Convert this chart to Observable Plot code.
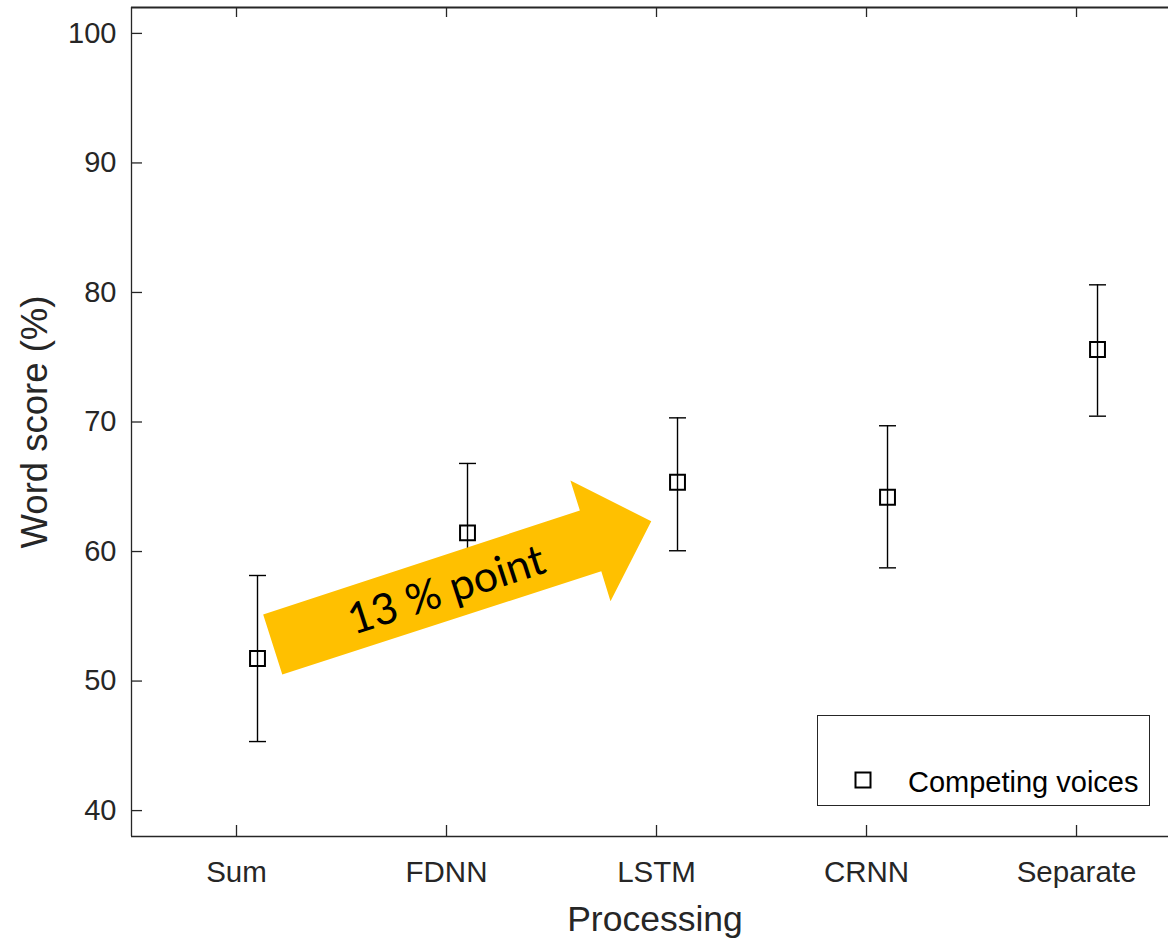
<!DOCTYPE html>
<html>
<head>
<meta charset="utf-8">
<script src="https://cdn.jsdelivr.net/npm/d3@7"></script>
<script src="https://cdn.jsdelivr.net/npm/@observablehq/plot@0.6"></script>
<style>
  html, body { margin: 0; padding: 0; background: #fff; overflow: hidden; }
  #wrap { position: relative; width: 1168px; height: 940px; }
  #legend {
    position: absolute; left: 817px; top: 715px; width: 333px; height: 91px;
    box-sizing: border-box; border: 1.3px solid #262626; background: #fff;
    font-family: "Liberation Sans", Arial, sans-serif; font-size: 29px; color: #000;
  }
  #legend svg { position: absolute; left: 36px; top: 55px; }
  #legend span { position: absolute; left: 90px; top: 50px; line-height: 32px; white-space: nowrap; }
</style>
</head>
<body>
<div id="wrap"></div>
<script>
// ---- data ----
const categories = ["Sum", "FDNN", "LSTM", "CRNN", "Separate"];
const means = [51.74, 61.44, 65.35, 64.19, 75.60];
const upper = [58.15, 66.80, 70.32, 69.71, 80.59];
const lower = [45.33, 56.08, 60.06, 58.74, 70.45];
const yTicks = [40, 50, 60, 70, 80, 90, 100];
const seriesName = "Competing voices";
// annotation arrow (in data units: category index, word score %)
const arrowX = [1.218, 1.127, 2.635, 2.590, 2.975, 2.781, 2.737];
const arrowY = [50.51, 55.14, 63.17, 65.48, 62.34, 56.17, 58.48];
const arrowLabel = "13 % point";
const arrowLabelPos = {x: 2.0, y: 57.0};

const rows = categories.map((c, i) => ({i: i + 1, cat: c, mean: means[i], hi: upper[i], lo: lower[i]}));
const arrow = arrowX.map((x, k) => ({x, y: arrowY[k]}));
const xIdx = categories.map((c, i) => i + 1);

const W = 1168, H = 940, mL = 131, mR = 0, mT = 7, mB = 104;
const fw = W - mL - mR, fh = H - mT - mB;
const ink = "#262626";
const cap = {draw(ctx, size) { const w = Math.sqrt(size) / 2; ctx.moveTo(-w, 0); ctx.lineTo(w, 0); }};

const chart = Plot.plot({
  width: W, height: H,
  marginLeft: mL, marginRight: mR, marginTop: mT, marginBottom: mB,
  style: {fontFamily: "'Liberation Sans', Arial, sans-serif", color: ink, background: "#fff"},
  x: {type: "linear", domain: [0.5, 5.438]},
  y: {domain: [38, 102]},
  marks: [
    // axis tick labels
    Plot.axisY({ticks: yTicks, tickSize: 0, tickPadding: 15, fontSize: 29, label: null, tickFormat: d => d}),
    Plot.axisX({ticks: xIdx, tickSize: 0, tickPadding: 25, fontSize: 29.5, label: null, tickFormat: d => categories[d - 1]}),
    // inward ticks
    Plot.tickY(yTicks, {y: d => d, insetRight: fw - 11, stroke: ink, strokeWidth: 1.3}),
    Plot.tickX(xIdx, {x: d => d, insetTop: fh - 11, stroke: ink, strokeWidth: 1.3}),
    Plot.tickX(xIdx, {x: d => d, insetBottom: fh - 10, stroke: ink, strokeWidth: 1.3}),
    // box lines (top, bottom, left)
    Plot.ruleY([102], {stroke: ink, strokeWidth: 1.8}),
    Plot.ruleY([38], {stroke: ink, strokeWidth: 1.5}),
    Plot.ruleX([0.5], {stroke: ink, strokeWidth: 1.3}),
    // axis titles
    Plot.text(["Processing"], {frameAnchor: "bottom", dx: 5, dy: 83, fontSize: 35.5, fill: ink, lineAnchor: "middle", textAnchor: "middle"}),
    Plot.text(["Word score (%)"], {frameAnchor: "left", dx: -96, rotate: -90, fontSize: 36.5, fill: ink, lineAnchor: "middle", textAnchor: "middle"}),
    // error bars
    Plot.ruleX(rows, {x: "i", y1: "lo", y2: "hi", dx: 21, stroke: "#000", strokeWidth: 1.4}),
    Plot.dot(rows, {x: "i", y: "hi", dx: 21, symbol: cap, r: 9.6, stroke: "#000", strokeWidth: 1.4}),
    Plot.dot(rows, {x: "i", y: "lo", dx: 21, symbol: cap, r: 9.6, stroke: "#000", strokeWidth: 1.4}),
    Plot.dot(rows, {x: "i", y: "mean", dx: 21, symbol: "square", r: 8.4, stroke: "#000", strokeWidth: 2, fill: "none"}),
    // annotation arrow
    Plot.line(arrow, {x: "x", y: "y", fill: "#FFC000", stroke: "none", curve: "linear-closed"}),
    Plot.text([arrowLabel], {x: () => arrowLabelPos.x, y: () => arrowLabelPos.y, rotate: -18, fontSize: 43,
      fontFamily: "Lato, 'Open Sans', sans-serif", fill: "#000", lineAnchor: "middle"})
  ]
});

const wrap = document.getElementById("wrap");
wrap.appendChild(chart);

const legend = document.createElement("div");
legend.id = "legend";
legend.innerHTML = `<svg width="18" height="18" viewBox="0 0 18 18"><rect x="1.5" y="1.5" width="15" height="15" fill="none" stroke="#000" stroke-width="2"/></svg><span></span>`;
legend.querySelector("span").textContent = seriesName;
wrap.appendChild(legend);
</script>
</body>
</html>
